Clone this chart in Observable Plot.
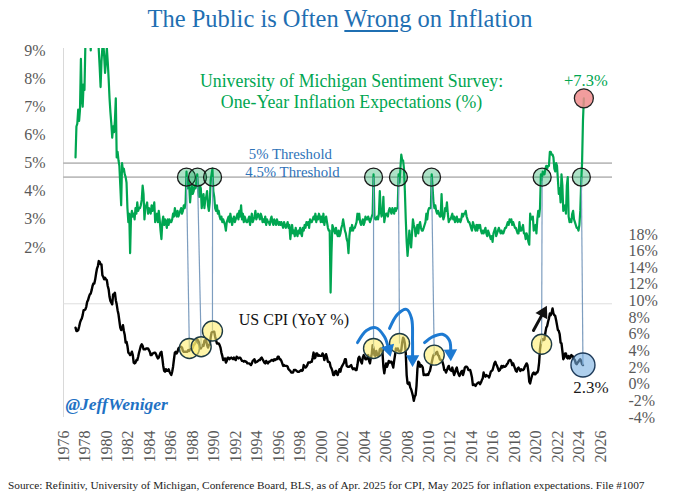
<!DOCTYPE html>
<html><head><meta charset="utf-8">
<script src="https://cdn.jsdelivr.net/npm/d3@7"></script>
<script src="https://cdn.jsdelivr.net/npm/@observablehq/plot@0.6"></script>
<style>
body{margin:0;background:#fff;width:680px;height:498px;overflow:hidden;font-family:"Liberation Serif",serif;}
#title{height:38px;line-height:38px;text-align:center;font-size:24.5px;color:#1f6fb2;font-family:"Liberation Serif",serif;}
#title u{text-decoration-thickness:1.5px;text-underline-offset:3px;}
#chart{height:434px;}
#chart svg, #chart svg text{font-family:"Liberation Serif",serif !important;}
#src{font-size:11.3px;color:#222;padding-left:8px;line-height:26px;white-space:nowrap;font-family:"Liberation Serif",serif;}
</style></head><body>
<div id="title">The Public is Often <u>Wrong</u> on Inflation</div>
<div id="chart"></div>
<div id="src">Source: Refinitiv, University of Michigan, Conference Board, BLS, as of Apr. 2025 for CPI, May 2025 for inflation expectations. File #1007</div>
<script>
// ---------- data ----------
const startYear = 1978; // both series are monthly, starting January 1978
const umich = [
5.2,6.3,6.4,6.9,6.5,6.9,8.7,7.3,7.0,7.8,7.6,9.2,
9.6,9.4,9.9,10.0,9.8,9.0,10.4,9.9,10.2,10.1,10.0,10.3,
10.2,9.8,9.0,8.4,7.7,8.6,9.1,9.3,8.8,8.2,8.6,9.1,
8.6,8.0,7.3,6.8,6.4,5.9,6.3,6.1,6.5,7.3,5.2,5.4,
5.1,4.9,4.2,3.5,5.0,4.7,4.8,4.6,4.5,4.3,3.4,2.9,
3.2,1.8,3.1,3.3,3.1,3.2,3.0,3.4,3.2,3.6,3.3,3.4,
3.4,3.5,3.7,4.2,3.9,3.0,3.4,3.5,3.6,3.2,3.4,3.3,
3.2,3.5,3.3,3.4,3.6,2.9,3.1,3.2,2.9,3.3,3.0,2.6,
2.3,2.9,3.1,2.8,3.0,2.9,2.7,3.0,2.8,3.0,2.9,2.9,
3.0,3.2,3.1,3.4,3.2,3.1,3.3,3.1,3.2,3.3,3.4,3.2,
3.3,3.5,3.4,3.6,4.7,4.1,4.4,4.2,3.6,4.0,4.2,3.9,
4.0,4.2,4.1,4.3,4.6,4.0,3.8,4.2,4.1,3.4,3.7,3.9,
3.4,3.7,3.8,4.0,3.5,3.3,3.6,4.4,4.6,4.8,4.0,3.8,
3.4,3.3,3.5,3.2,3.3,3.1,3.0,3.1,2.9,3.0,2.9,2.8,
2.6,2.9,3.0,3.1,2.9,3.2,3.0,2.8,3.0,3.1,2.9,3.0,
3.1,3.2,3.0,3.3,3.1,3.5,3.0,3.2,2.9,3.1,3.0,2.9,
2.9,3.0,3.1,2.8,3.0,3.2,2.9,3.0,3.1,3.3,3.0,3.1,
3.2,3.1,3.0,3.2,3.1,2.9,3.0,2.9,3.1,2.8,3.0,2.9,
2.9,2.8,3.0,3.1,2.9,2.8,3.0,2.9,2.8,3.0,2.9,2.8,
2.9,2.8,2.9,2.8,2.7,2.9,2.8,2.7,2.8,2.9,2.7,2.8,
2.3,2.6,2.8,2.5,2.6,2.4,2.7,2.5,2.4,2.6,2.5,2.7,
2.5,2.4,2.7,2.6,2.8,2.7,2.9,2.8,2.9,2.7,3.0,2.9,
2.9,3.0,3.1,3.0,3.2,2.9,3.1,3.0,3.2,3.1,2.9,3.1,
2.9,3.2,2.8,3.0,3.1,2.9,2.7,2.6,2.6,0.4,1.8,2.8,
2.7,2.6,2.5,2.7,2.5,2.4,2.6,2.4,2.5,2.7,2.8,3.0,
2.8,2.6,2.5,2.3,2.2,1.8,2.4,2.7,2.6,2.8,2.6,2.7,
2.7,2.8,2.9,3.2,3.0,3.2,2.9,2.8,2.9,3.0,2.8,2.9,
3.1,3.0,3.0,3.1,3.0,2.9,3.0,3.1,3.2,4.6,3.1,3.0,
3.0,3.1,3.0,3.2,4.0,3.3,3.1,3.2,3.8,2.9,3.1,3.2,
3.2,3.1,3.3,3.4,3.3,3.2,3.4,3.3,3.2,3.4,3.3,3.4,
3.4,4.6,4.3,4.8,5.3,5.1,5.1,4.8,4.0,3.0,2.2,1.7,
2.1,2.6,2.3,2.0,2.5,3.0,2.8,2.7,2.4,2.6,2.8,2.5,
2.8,2.9,2.7,2.6,2.6,2.7,2.8,2.9,3.2,3.0,3.3,3.4,
3.4,3.4,4.6,4.1,3.6,3.4,3.5,3.3,3.2,3.3,3.2,3.1,
3.1,3.9,3.2,3.0,3.1,3.4,3.3,3.6,3.2,2.9,3.0,3.0,
3.1,3.2,3.0,3.1,2.9,3.0,3.1,2.9,3.0,3.0,2.9,3.0,
3.2,3.1,3.2,3.2,3.3,3.1,3.0,2.9,2.9,2.8,2.7,2.6,
2.9,2.8,2.7,2.6,2.8,2.6,2.8,2.7,2.8,2.6,2.5,2.6,
2.5,2.6,2.7,2.5,2.4,2.6,2.5,2.4,2.3,2.4,2.2,2.5,
2.6,2.7,2.4,2.5,2.6,2.7,2.6,2.5,2.6,2.5,2.5,2.6,
2.7,2.7,2.8,2.9,2.8,3.0,2.9,3.0,2.8,2.9,2.8,2.7,
2.7,2.6,2.5,2.5,2.9,2.6,2.6,2.7,2.8,2.5,2.5,2.3,
2.5,2.4,2.2,2.1,3.2,3.0,3.0,3.1,2.6,2.7,2.8,2.5,
3.0,3.3,3.1,3.4,4.6,4.4,4.7,4.6,4.6,4.8,4.9,4.8,
4.9,4.9,5.4,5.4,5.3,5.3,5.2,4.8,4.7,5.0,4.9,4.4,
3.9,4.1,3.6,4.6,4.2,3.3,3.4,3.5,3.2,4.2,4.5,3.1,
2.9,3.0,2.9,3.2,3.3,3.0,2.9,2.8,2.7,2.7,2.6,2.8,
3.3,4.3,5.0,6.5,7.3
];
const cpi = [
6.8,6.4,6.4,6.5,6.9,7.4,7.7,7.9,8.3,8.9,8.9,9.0,
9.3,9.9,10.1,10.5,10.8,10.9,11.3,11.8,12.1,12.1,12.6,13.3,
13.9,14.2,14.8,14.7,14.4,14.4,13.1,12.9,12.6,12.8,12.6,12.5,
11.8,11.4,10.5,10.0,9.8,9.6,10.8,10.8,11.0,10.1,9.6,8.9,
8.4,7.6,6.8,6.5,6.7,7.1,6.4,5.9,5.0,5.1,4.6,3.8,
3.7,3.5,3.6,3.9,3.5,2.6,2.5,2.6,2.9,2.9,3.3,3.8,
4.2,4.6,4.8,4.6,4.2,4.2,4.2,4.3,4.3,4.3,4.1,3.9,
3.5,3.5,3.7,3.7,3.8,3.8,3.6,3.3,3.1,3.2,3.5,3.8,
3.9,3.1,2.2,1.6,1.5,1.8,1.6,1.6,1.8,1.5,1.3,1.1,
1.5,2.1,3.0,3.8,3.9,3.7,3.9,4.3,4.4,4.5,4.5,4.4,
4.0,3.9,3.9,3.9,3.9,3.9,4.1,4.0,4.2,4.2,4.2,4.4,
4.7,4.8,5.0,5.1,5.4,5.2,5.0,4.7,4.3,4.5,4.7,4.6,
5.2,5.3,5.2,4.7,4.4,4.7,4.8,5.6,6.2,6.3,6.3,6.3,
5.7,5.3,4.9,4.9,4.9,4.7,4.4,3.8,3.4,2.9,3.0,3.1,
2.6,2.8,3.2,3.2,3.0,3.1,3.2,3.1,3.0,3.2,3.0,2.9,
3.3,3.2,3.1,3.2,3.2,3.0,2.8,2.8,2.7,2.8,2.7,2.7,
2.5,2.5,2.5,2.4,2.3,2.5,2.8,2.9,3.0,2.6,2.7,2.7,
2.8,2.9,2.9,3.1,3.2,3.0,2.8,2.6,2.5,2.8,2.6,2.5,
2.7,2.7,2.8,2.9,2.9,2.8,3.0,2.9,3.0,3.0,3.3,3.3,
3.0,3.0,2.8,2.5,2.2,2.3,2.2,2.2,2.2,2.1,1.8,1.7,
1.6,1.4,1.4,1.4,1.7,1.7,1.7,1.6,1.5,1.5,1.5,1.6,
1.7,1.6,1.7,2.3,2.1,2.0,2.1,2.3,2.6,2.6,2.6,2.7,
2.7,3.2,3.8,3.1,3.2,3.7,3.7,3.4,3.5,3.4,3.4,3.4,
3.7,3.5,2.9,3.3,3.6,3.2,2.7,2.7,2.6,2.1,1.9,1.6,
1.1,1.1,1.5,1.6,1.2,1.1,1.5,1.8,1.5,2.0,2.2,2.4,
2.6,3.0,3.0,2.2,2.1,2.1,2.1,2.2,2.3,2.0,1.8,1.9,
1.9,1.7,1.7,2.3,3.1,3.3,3.0,2.7,2.5,3.2,3.5,3.3,
3.0,3.0,3.1,3.5,2.8,2.5,3.2,3.6,4.7,4.3,3.5,3.4,
4.0,3.6,3.4,3.5,4.2,4.3,4.1,3.8,2.1,1.3,2.0,2.5,
2.1,2.4,2.8,2.6,2.7,2.7,2.4,2.0,2.8,3.5,4.3,4.1,
4.3,4.0,4.0,3.9,4.1,5.0,5.6,5.4,4.9,3.7,1.1,0.1,
0.0,0.2,-0.4,-0.6,-1.0,-1.4,-2.0,-1.5,-1.3,-0.2,1.8,2.7,
2.6,2.1,2.3,2.2,2.0,1.1,1.2,1.1,1.1,1.2,1.1,1.4,
1.6,2.1,2.6,3.1,3.5,3.6,3.6,3.8,3.9,3.5,3.4,3.0,
2.9,2.9,2.7,2.3,1.7,1.7,1.4,1.7,2.0,2.2,1.8,1.7,
1.6,2.0,1.5,1.1,1.4,1.8,2.0,1.5,1.2,1.0,1.2,1.5,
1.6,1.1,1.5,2.0,2.1,2.1,2.0,1.7,1.7,1.7,1.3,0.8,
-0.1,0.0,-0.1,-0.2,0.0,0.1,0.2,0.2,0.0,0.2,0.5,0.7,
1.4,1.0,0.9,1.1,1.0,1.0,0.8,1.1,1.5,1.6,1.7,2.1,
2.5,2.7,2.4,2.2,1.9,1.6,1.7,1.9,2.2,2.0,2.2,2.1,
2.1,2.2,2.4,2.5,2.8,2.9,2.9,2.7,2.3,2.5,2.2,1.9,
1.6,1.5,1.9,2.0,1.8,1.6,1.8,1.7,1.7,1.8,2.1,2.3,
2.5,2.3,1.5,0.3,0.1,0.6,1.0,1.3,1.4,1.2,1.2,1.4,
1.4,1.7,2.6,4.2,5.0,5.4,5.4,5.3,5.4,6.2,6.8,7.0,
7.5,7.9,8.5,8.3,8.6,9.1,8.5,8.3,8.2,7.7,7.1,6.5,
6.4,6.0,5.0,4.9,4.0,3.0,3.2,3.7,3.7,3.2,3.1,3.4,
3.1,3.2,3.5,3.4,3.3,3.0,2.9,2.5,2.4,2.6,2.7,2.9,
3.0,2.8,2.4,2.3
];
const xTickYears = [1976,1978,1980,1982,1984,1986,1988,1990,1992,1994,1996,1998,2000,2002,2004,2006,2008,2010,2012,2014,2016,2018,2020,2022,2024,2026];
const leftTicks = [2,3,4,5,6,7,8,9];
const rightTicks = [-4,-2,0,2,4,6,8,10,12,14,16,18];
const thresholds = [5, 4.5];
const thresholdLabels = ["5% Threshold", "4.5% Threshold"];
// survey spikes through the 4.5% line (decimal years)
const spikeDates = [1988.33, 1989.36, 1990.76, 2005.75, 2008.07, 2011.15, 2021.45, 2025.1];
// matching CPI points that are circled
const cpiMarkDates = [1988.6, 1989.7, 1990.75, 2005.75, 2008.17, 2011.4, 2021.4];
const cpiMarkValues = [4.3, 4.5, 6.4, 4.3, 4.9, 3.5, 4.8];
// hand-drawn arrows: path points as [decimal year, CPI %]
const arrowPaths = [
  [[2004.26, 5.0], [2005.09, 6.45], [2005.93, 6.8], [2006.77, 5.7], [2007.15, 4.2]],
  [[2007.24, 6.7], [2007.98, 8.4], [2008.82, 9.0], [2009.29, 7.9], [2009.38, 5.25], [2009.38, 3.0]],
  [[2010.5, 5.0], [2011.24, 5.7], [2012.17, 6.0], [2012.82, 5.25], [2012.92, 3.7]],
  [[2020.64, 6.45], [2021.55, 8.6]]
];
const arrowColor = ["#1d7ad2", "#1d7ad2", "#1d7ad2", "#111"];
const arrowHeadAngle = [165, 180, 178, 28];

// ---------- derived ----------
const labelShift = 0.9; // the original's year labels sit ~1 year right of their dates
// CPI (right axis) mapped onto the left-axis scale
const toU = v => -2.857 + 0.2956 * v;
const fromU = u => (u + 2.857) / 0.2956;
const umichRows = umich.map((v, i) => ({t: startYear + i / 12, v}));
const cpiRows = cpi.map((v, i) => ({t: startYear + i / 12, v}));
const lastU = umichRows[umichRows.length - 1];
const lastC = cpiRows[cpiRows.length - 1];
const xDomain = [1976.88, 2028.0];
const spikeRows = spikeDates.map(t => ({t, v: thresholds[1]}));
const cpiMarkRows = cpiMarkDates.map((t, i) => ({t, v: cpiMarkValues[i]}));
const linkRows = spikeDates.map((t, i) => i < cpiMarkRows.length
  ? {t1: t, u1: thresholds[1], t2: cpiMarkRows[i].t, u2: toU(cpiMarkRows[i].v)}
  : {t1: t, u1: thresholds[1], t2: lastC.t, u2: toU(lastC.v)});
const arrowRows = arrowPaths.flatMap((p, k) => p.map(([t, v]) => ({k, t, u: toU(v), c: arrowColor[k]})));
const headRows = arrowPaths.map((p, k) => ({t: p[p.length - 1][0], u: toU(p[p.length - 1][1]), c: arrowColor[k], a: arrowHeadAngle[k]}));
const font = "Liberation Serif";
const axisText = {fontFamily: font, fontSize: 16, fill: "#595959"};

const chart = Plot.plot({
  width: 680, height: 434,
  marginLeft: 63, marginRight: 68, marginTop: 10, marginBottom: 55,
  x: {type: "linear", domain: xDomain, axis: null},
  y: {domain: [-4.04, 9.07], axis: null},
  style: {fontFamily: font, fontSize: "16px", color: "#595959", background: "#fff", overflow: "visible"},
  marks: [
    Plot.ruleX([xDomain[0]], {stroke: "#d9d9d9", strokeWidth: 1}),
    Plot.ruleY([0], {stroke: "#dedede", strokeWidth: 1}),
    Plot.ruleY(thresholds, {stroke: "#bdbdbd", strokeWidth: 1.8}),
    Plot.text([thresholdLabels[0]], {x: [1998.0], y: [thresholds[0]], dy: -9, text: d => d, fill: "#2e72b8", fontSize: 14.8, fontFamily: font}),
    Plot.text([thresholdLabels[1]], {x: [1998.2], y: [thresholds[1]], dy: -5, text: d => d, fill: "#2e72b8", fontSize: 14.8, fontFamily: font}),
    Plot.line(umichRows, {x: "t", y: "v", stroke: "#00a651", strokeWidth: 2.2, clip: true}),
    Plot.line(cpiRows, {x: "t", y: d => toU(d.v), stroke: "#000", strokeWidth: 2.4}),
    Plot.link(linkRows, {x1: "t1", y1: "u1", x2: "t2", y2: "u2", stroke: "#7d9dbf", strokeWidth: 1.2}),
    Plot.dot(spikeRows, {x: "t", y: "v", r: 9, fill: "rgba(0,166,81,0.32)", stroke: "#1a1a1a", strokeWidth: 1.3}),
    Plot.dot(cpiMarkRows, {x: "t", y: d => toU(d.v), r: 10, fill: "rgba(255,238,110,0.6)", stroke: "#1e3b44", strokeWidth: 1.4}),
    Plot.dot([lastC], {x: "t", y: d => toU(d.v), r: 12, fill: "rgba(120,175,225,0.6)", stroke: "#1e3b5a", strokeWidth: 1.4}),
    Plot.dot([lastU], {x: "t", y: "v", r: 9.5, fill: "rgba(240,140,140,0.85)", stroke: "#222", strokeWidth: 1.3}),
    Plot.line(arrowRows, {x: "t", y: "u", z: "k", stroke: "c", strokeWidth: 3, curve: "catmull-rom", strokeLinecap: "round"}),
    Plot.dot(headRows, {x: "t", y: "u", symbol: "triangle", rotate: "a", fill: "c", r: 5, stroke: null}),
    Plot.text([lastU], {x: "t", y: "v", dy: -18, dx: 2, text: d => "+" + d.v.toFixed(1) + "%", fill: "#00a651", fontSize: 16.5, fontFamily: font}),
    Plot.text([lastC], {x: "t", y: d => toU(d.v), dy: 22, dx: 8, text: d => d.v.toFixed(1) + "%", fill: "#1a1a1a", fontSize: 17, fontFamily: font}),
    Plot.text(["University of Michigan Sentiment Survey:\nOne-Year Inflation Expectations (%)"], {x: [2003.7], y: [7.56], text: d => d, fill: "#00a651", fontSize: 17.8, lineHeight: 1.18, fontFamily: font}),
    Plot.text(["US CPI (YoY %)"], {x: [1993.2], y: [toU(7.7)], text: d => d, textAnchor: "start", fill: "#111", fontSize: 16, fontFamily: font}),
    Plot.text(["@JeffWeniger"], {frameAnchor: "bottom-left", dx: 2, dy: -8, text: d => d, textAnchor: "start", fill: "#1f72c4", fontSize: 17.5, fontWeight: "bold", fontStyle: "italic", fontFamily: font}),
    Plot.axisY(leftTicks, {anchor: "left", tickSize: 0, tickPadding: 18, tickFormat: d => d + "%", ...axisText}),
    Plot.axisY(rightTicks.map(toU), {anchor: "right", tickSize: 0, tickPadding: 16, tickFormat: d => Math.round(fromU(d)) + "%", ...axisText}),
    Plot.axisX(xTickYears.map(y => y + labelShift), {anchor: "bottom", tickSize: 0, tickPadding: 13, tickRotate: -90, tickFormat: d => String(Math.round(d - labelShift)), ...axisText})
  ]
});
document.getElementById("chart").append(chart);
</script>
</body></html>
